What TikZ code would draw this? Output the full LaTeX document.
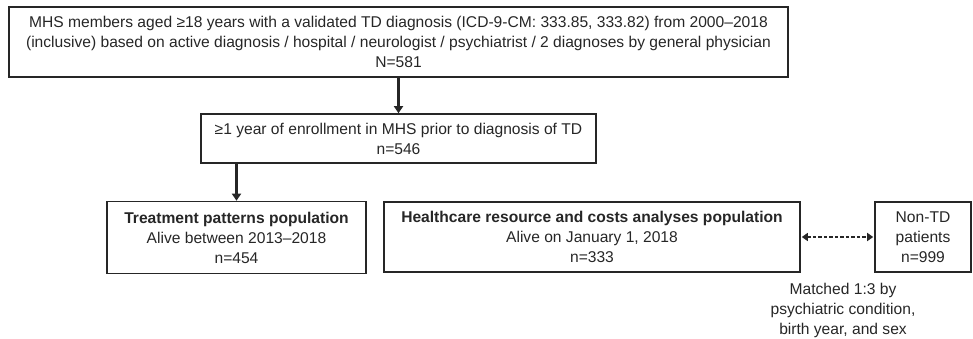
\documentclass[tikz,border=0pt]{standalone}
\usepackage{fontspec}
\setmainfont{Liberation Sans}
\usetikzlibrary{arrows.meta}

\tikzset{
  box/.style={draw=black!85, line width=1.6pt, align=center, inner sep=0pt,
    text=black!85, font=\fontsize{15.6}{20}\selectfont},
  flow/.style={draw=black!85, line width=3pt, -{Triangle[length=7pt,width=9pt]}},
  match/.style={draw=black!85, line width=2.4pt, dash pattern=on 3.5pt off 2pt,
    {Triangle[length=6pt,width=8pt]}-{Triangle[length=6pt,width=8pt]}, shorten >=1pt, shorten <=1pt}
}

\begin{document}
\begin{tikzpicture}[x=1pt, y=-1pt]
	\useasboundingbox (0,0) rectangle (973,339);
	
	\node[box, minimum width=779pt, minimum height=70pt] (all) at (398.5,42)
	{MHS members aged ≥18 years with a validated TD diagnosis (ICD-9-CM: 333.85, 333.82) from 2000–2018\\
	(inclusive) based on active diagnosis / hospital / neurologist / psychiatrist / 2 diagnoses by general physician\\
	N=581};
	\node[box, minimum width=395pt, minimum height=49pt] (enrol) at (398.5,138.5)
	{≥1 year of enrollment in MHS prior to diagnosis of TD\\ n=546};
	\node[box, minimum width=259pt, minimum height=72pt] (treat) at (236.5,237.5)
	{\textbf{Treatment patterns population}\\ Alive between 2013–2018\\ n=454};
	\node[box, minimum width=416pt, minimum height=70pt] (cost) at (592,237)
	{\textbf{Healthcare resource and costs analyses population}\\ Alive on January 1, 2018\\ n=333};
	\node[box, minimum width=96pt, minimum height=70pt] (nontd) at (923,237)
	{Non-TD\\ patients\\ n=999};
	\node[align=center, text=black!85, font=\fontsize{15.6}{20}\selectfont] (note) at (843,310)
	{Matched 1:3 by\\ psychiatric condition,\\ birth year, and sex};
	
	\draw[flow] (all.south) -- (enrol.north);
	\draw[flow] (enrol.south -| treat.north) -- (treat.north);
	\draw[match] (cost.east) -- (nontd.west);
\end{tikzpicture}
\end{document}
